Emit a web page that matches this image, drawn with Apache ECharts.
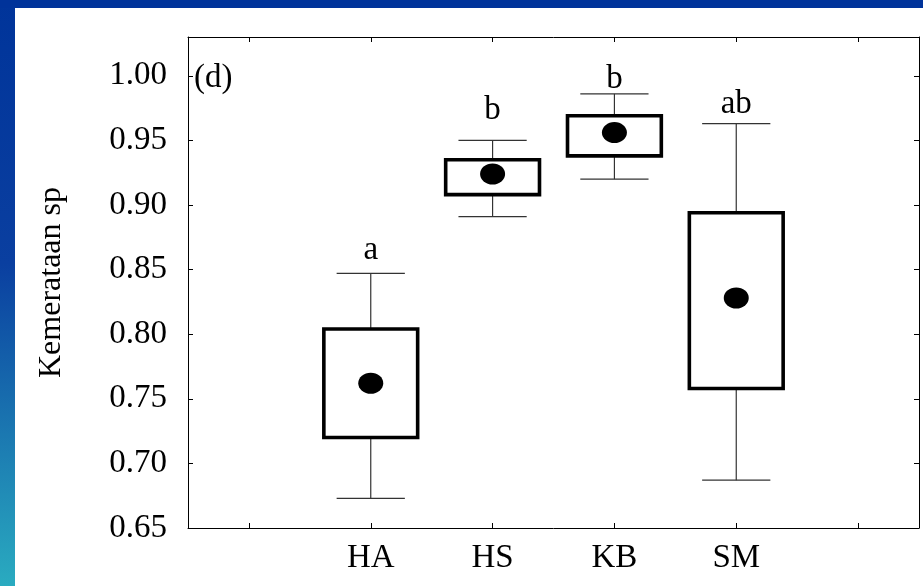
<!DOCTYPE html>
<html>
<head>
<meta charset="utf-8">
<script src="https://cdn.jsdelivr.net/npm/echarts@6/dist/echarts.min.js"></script>
<style>
html,body{margin:0;padding:0;background:#fff;}
#chart{width:923px;height:586px;}
</style>
</head>
<body>
<div id="chart"></div>
<script>
// ---- data ----
const groups      = ['HA', 'HS', 'KB', 'SM'];
const whiskerLow  = [0.673, 0.891, 0.920, 0.687];
const boxLow      = [0.720, 0.908, 0.938, 0.758];
const boxHigh     = [0.804, 0.935, 0.969, 0.894];
const whiskerHigh = [0.847, 0.950, 0.986, 0.963];
const means       = [0.762, 0.924, 0.956, 0.828];
const letters     = ['a', 'b', 'b', 'ab'];
const letterY     = [0.865, 0.973, 0.997, 0.978];
const yTicks      = [0.65, 0.70, 0.75, 0.80, 0.85, 0.90, 0.95, 1.00];
const yTitle      = 'Kemerataan sp';
const panelTag    = '(d)';

// axis has an empty slot on each side of the four groups
const axisCats = [''].concat(groups, [' ']);
const FONT = '"Liberation Serif", "Times New Roman", serif';

const boxData = groups.map((g, i) => [i + 1, whiskerLow[i], boxLow[i], boxHigh[i], whiskerHigh[i]]);
const meanData = groups.map((g, i) => [i + 1, means[i]]);
const letterData = groups.map((g, i) => [i + 1, letterY[i]]);

const chart = echarts.init(document.getElementById('chart'), null, {renderer: 'canvas'});

const axisLineStyle = {color: '#000', width: 1};

const option = {
  backgroundColor: '#ffffff',
  animation: false,
  graphic: [
    {type: 'rect', left: 0, top: 0, z: 0, silent: true,
     shape: {x: 0, y: 0, width: 15, height: 586},
     style: {fill: new echarts.graphic.LinearGradient(0, 0, 0, 1, [
        {offset: 0, color: '#00349a'}, {offset: 0.45, color: '#0a3fa0'},
        {offset: 1, color: '#2aabc0'}])}},
    {type: 'rect', left: 0, top: 0, z: 0, silent: true,
     shape: {x: 0, y: 0, width: 923, height: 8},
     style: {fill: '#00339a'}},
    {type: 'text', left: 194, top: 62, z: 10, silent: true,
     style: {text: panelTag, font: '33px ' + FONT, fill: '#000'}}
  ],
  grid: {left: 188, right: 4, top: 37, bottom: 58, containLabel: false},
  xAxis: [
    {
      type: 'category', data: axisCats, position: 'bottom', boundaryGap: true,
      axisLine: {show: true, lineStyle: axisLineStyle},
      axisTick: {show: true, inside: true, length: 5, alignWithLabel: true, interval: 0, lineStyle: {color: '#000', width: 1}},
      axisLabel: {show: true, interval: 0, margin: 14, color: '#000', fontSize: 33, fontFamily: FONT},
      splitLine: {show: false}
    },
    {
      type: 'category', data: axisCats, position: 'top', boundaryGap: true,
      axisLine: {show: true, lineStyle: axisLineStyle},
      axisTick: {show: true, inside: true, length: 5, alignWithLabel: true, interval: 0, lineStyle: {color: '#000', width: 1}},
      axisLabel: {show: false},
      splitLine: {show: false}
    }
  ],
  yAxis: [
    {
      type: 'value', min: 0.65, max: 1.03, interval: 0.05, position: 'left',
      name: yTitle, nameLocation: 'middle', nameGap: 120, nameRotate: 90,
      nameTextStyle: {color: '#000', fontSize: 32, fontFamily: FONT},
      axisLine: {show: true, lineStyle: axisLineStyle},
      axisTick: {show: true, inside: true, length: 5, lineStyle: {color: '#000', width: 1}},
      axisLabel: {show: true, margin: 21, color: '#000', fontSize: 33, fontFamily: FONT,
        showMaxLabel: false,
        formatter: function (v) {
          const hit = yTicks.find(t => Math.abs(t - v) < 1e-6);
          return hit === undefined ? '' : hit.toFixed(2);
        }},
      splitLine: {show: false}
    },
    {
      type: 'value', min: 0.65, max: 1.03, interval: 0.05, position: 'right',
      axisLine: {show: true, lineStyle: axisLineStyle},
      axisTick: {show: true, inside: true, length: 5, lineStyle: {color: '#000', width: 1}},
      axisLabel: {show: false},
      splitLine: {show: false}
    }
  ],
  series: [
    {
      type: 'custom',
      xAxisIndex: 0, yAxisIndex: 0,
      data: boxData,
      encode: {x: 0, y: [1, 2, 3, 4]},
      z: 2,
      renderItem: function (params, api) {
        const x = api.value(0);
        const pLo = api.coord([x, api.value(1)]);
        const pQ1 = api.coord([x, api.value(2)]);
        const pQ3 = api.coord([x, api.value(3)]);
        const pHi = api.coord([x, api.value(4)]);
        const band = api.size([1, 0])[0];
        const bw = band * 0.77;
        const cw = band * 0.56;
        const cx = pLo[0];
        const wStyle = {stroke: '#333', lineWidth: 1.2};
        return {
          type: 'group',
          children: [
            {type: 'line', shape: {x1: cx, y1: pLo[1], x2: cx, y2: pQ1[1]}, style: wStyle},
            {type: 'line', shape: {x1: cx, y1: pQ3[1], x2: cx, y2: pHi[1]}, style: wStyle},
            {type: 'line', shape: {x1: cx - cw / 2, y1: pLo[1], x2: cx + cw / 2, y2: pLo[1]}, style: wStyle},
            {type: 'line', shape: {x1: cx - cw / 2, y1: pHi[1], x2: cx + cw / 2, y2: pHi[1]}, style: wStyle},
            {type: 'rect', shape: {x: cx - bw / 2, y: pQ3[1], width: bw, height: pQ1[1] - pQ3[1]},
             style: {fill: '#fff', stroke: '#000', lineWidth: 3.6}}
          ]
        };
      }
    },
    {
      type: 'scatter',
      xAxisIndex: 0, yAxisIndex: 0,
      data: meanData,
      symbol: 'circle',
      symbolSize: [25, 21],
      itemStyle: {color: '#000', opacity: 1},
      z: 5
    },
    {
      type: 'scatter',
      xAxisIndex: 0, yAxisIndex: 0,
      data: letterData,
      symbol: 'circle',
      symbolSize: 1,
      itemStyle: {color: 'rgba(0,0,0,0)', opacity: 1},
      label: {
        show: true, position: 'inside', color: '#000', opacity: 1, fontSize: 33, fontFamily: FONT,
        verticalAlign: 'middle', align: 'center',
        formatter: function (p) { return letters[p.dataIndex]; }
      },
      z: 6
    }
  ]
};

chart.setOption(option);
</script>
</body>
</html>
